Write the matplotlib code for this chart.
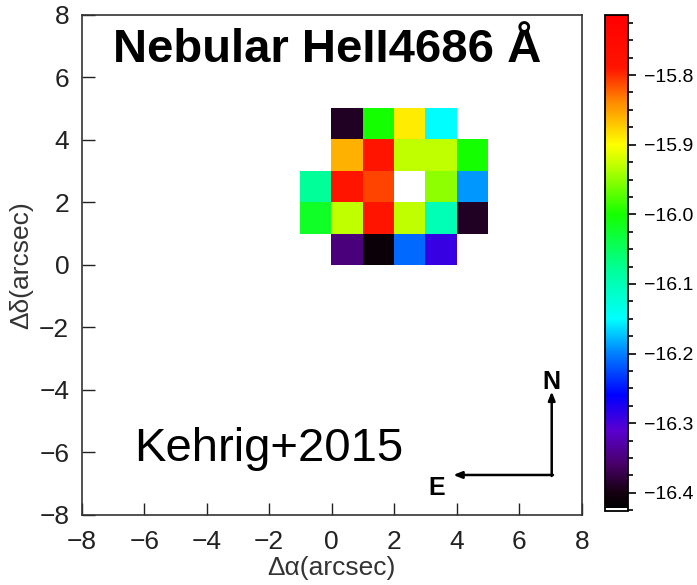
import numpy as np
import matplotlib
matplotlib.use("Agg")
import matplotlib.pyplot as plt
from matplotlib.colors import LinearSegmentedColormap

plt.rcParams['font.family'] = ['Liberation Sans', 'DejaVu Sans']

# log flux per spaxel, rows from y=0..1 (bottom) to y=4..5 (top), columns x=-1..5
row0 = [np.nan, -16.35, -16.41, -16.21, -16.29, np.nan]
row1 = [-16.02, -15.93, -15.79, -15.93, -16.10, -16.39]
row2 = [-16.08, -15.79, -15.81, -16.426, -15.95, -16.19]
row3 = [np.nan, -15.86, -15.79, -15.93, -15.93, -16.00]
row4 = [np.nan, -16.39, -16.00, -15.89, -16.15, np.nan]
flux = np.array([row0, row1, row2, row3, row4])

vmin, vmax = -16.426, -15.714
cbar_ticks = [-15.8, -15.9, -16.0, -16.1, -16.2, -16.3, -16.4]
axis_ticks = [-8, -6, -4, -2, 0, 2, 4, 6, 8]

# rainbow table with a white entry at the very bottom
stops = [
    (-16.426, (1, 1, 1)),
    (-16.4225, (1, 1, 1)),
    (-16.422, (0.0, 0.0, 0.0)),
    (-16.40, (0.08, 0.0, 0.06)),
    (-16.36, (0.28, 0.0, 0.40)),
    (-16.31, (0.35, 0.0, 0.82)),
    (-16.26, (0.0, 0.0, 1.0)),
    (-16.20, (0.0, 0.50, 1.0)),
    (-16.15, (0.0, 1.0, 1.0)),
    (-16.08, (0.0, 1.0, 0.60)),
    (-16.00, (0.08, 1.0, 0.0)),
    (-15.93, (0.75, 1.0, 0.0)),
    (-15.90, (1.0, 1.0, 0.0)),
    (-15.84, (1.0, 0.55, 0.0)),
    (-15.79, (1.0, 0.08, 0.0)),
    (-15.714, (1.0, 0.0, 0.0)),
]
cmap = LinearSegmentedColormap.from_list(
    "rainbow_bw", [((v - vmin) / (vmax - vmin), c) for v, c in stops], N=1024)
cmap.set_bad((1, 1, 1, 0))

fig = plt.figure(figsize=(6.97, 5.85), dpi=100)
ax = fig.add_axes([0.1172, 0.1197, 0.7174, 0.8547])
cax = fig.add_axes([0.868, 0.1265, 0.0334, 0.8476])

im = ax.imshow(flux, origin="lower", extent=(-1, 5, 0, 5), cmap=cmap,
               vmin=vmin, vmax=vmax, interpolation="nearest", aspect="auto")
ax.set_xlim(-8, 8)
ax.set_ylim(-8, 8)
ax.set_xticks(axis_ticks)
ax.set_yticks(axis_ticks)
ax.tick_params(direction="in", length=9, width=1, labelsize=19, colors="#222222")
ax.tick_params(axis="x", pad=11)
ax.tick_params(axis="y", pad=9)
for s in ax.spines.values():
    s.set_linewidth(1.2)
    s.set_color("#333333")
ax.set_xlabel("Δα(arcsec)", fontsize=19, color="#333333", labelpad=1)
ax.set_ylabel("Δδ(arcsec)", fontsize=19, color="#333333", labelpad=4)

ax.text(-0.16, 6.88, "Nebular HeII4686 Å", fontsize=34, fontweight="bold",
        ha="center", va="center")
ax.text(-2.01, -5.89, "Kehrig+2015", fontsize=34, ha="center", va="center")

# compass
ax.annotate("", xy=(7.04, -4.05), xytext=(7.04, -6.75),
            arrowprops=dict(arrowstyle="-|>,head_length=0.5,head_width=0.2",
                            lw=1.8, color="black", shrinkA=0, shrinkB=0))
ax.annotate("", xy=(3.89, -6.72), xytext=(7.08, -6.72),
            arrowprops=dict(arrowstyle="-|>,head_length=0.5,head_width=0.2",
                            lw=1.8, color="black", shrinkA=0, shrinkB=0))
ax.text(7.04, -3.73, "N", fontsize=18, fontweight="bold", ha="center", va="center")
ax.text(3.36, -7.14, "E", fontsize=18, fontweight="bold", ha="center", va="center")

cb = fig.colorbar(im, cax=cax, ticks=cbar_ticks)
cb.ax.set_yticklabels(["−15.8", "−15.9", "−16.0", "−16.1", "−16.2", "−16.3", "−16.4"])
cb.ax.yaxis.set_minor_locator(matplotlib.ticker.MultipleLocator(0.025))
cb.ax.tick_params(which="major", length=6, width=1.2, labelsize=14, pad=5)
cb.ax.tick_params(which="minor", length=3.6, width=1.2)
cb.outline.set_linewidth(1.3)

fig.savefig("out.png", dpi=100)
